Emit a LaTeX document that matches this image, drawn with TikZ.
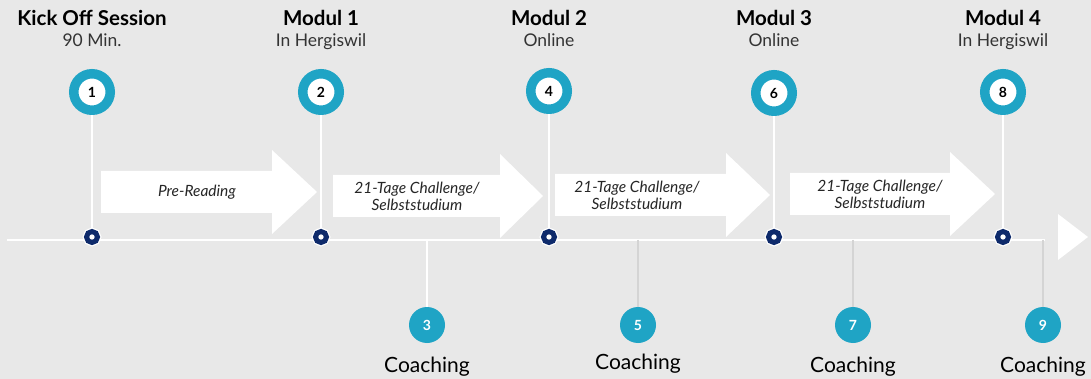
\documentclass[tikz,border=0pt]{standalone}
\usepackage{fontspec}
\setmainfont{Lato}
\usetikzlibrary{positioning}

\definecolor{bggray}{HTML}{E8E8E8}
\definecolor{kickteal}{HTML}{1FA4C5}
\definecolor{ringnavy}{HTML}{0E2A6B}
\definecolor{stemgray}{HTML}{D4D4D4}

\tikzset{
  timeline/.style={draw=white, line width=2pt},
  stem/.style={draw=white, line width=2pt},
  modulcircle/.style={circle, draw=kickteal, line width=9.5pt, fill=white,
    minimum size=36.5pt, inner sep=0pt, outer sep=4.75pt,
    font=\bfseries\fontsize{14}{14}\selectfont},
  ring/.style={circle, draw=ringnavy, line width=5pt, fill=white,
    minimum size=11pt, inner sep=0pt, outer sep=3.5pt,
    preaction={draw=white, line width=7.5pt}},
  coachcircle/.style={circle, fill=kickteal, minimum size=36pt, inner sep=0pt,
    text=white, font=\bfseries\fontsize{14}{14}\selectfont},
  titletext/.style={anchor=base, inner sep=0pt, font=\bfseries\fontsize{20.5}{20}\selectfont},
  subtext/.style={anchor=base, inner sep=0pt, text=black!80, font=\fontsize{17.5}{17}\selectfont},
  arrowtext/.style={align=center, inner sep=0pt, text=black!85,
    font=\itshape\fontsize{15.5}{17}\selectfont},
  coachtext/.style={anchor=base, inner sep=0pt, font=\fontsize{21}{21}\selectfont}
}

\begin{document}
\begin{tikzpicture}[x=1pt,y=-1pt]
\fill[bggray] (0,0) rectangle (1091,379);
\useasboundingbox (0,0) rectangle (1091,379);

% timeline
\coordinate (tlstart) at (7,240);
\coordinate (tlend) at (1045,240);
\draw[timeline] (tlstart) -- (tlend);
\fill[white] (1058,214) -- (1088,237) -- (1058,260) -- cycle;

% phases between the modules
\foreach \xa/\xb/\xc/\yc/\xt/\name/\txt in {
  101/272/317/192/197/pre/Pre-Reading,
  333/500/543/196/417/chA/{21-Tage Challenge/\\Selbststudium},
  555/726/770/195/637/chB/{21-Tage Challenge/\\Selbststudium},
  790/950/995/194/880/chC/{21-Tage Challenge/\\Selbststudium}}
{
  \fill[white] (\xa,\yc-21) -- (\xb,\yc-21) -- (\xb,\yc-42) -- (\xc,\yc)
    -- (\xb,\yc+42) -- (\xb,\yc+21) -- (\xa,\yc+21) -- cycle;
  \node[arrowtext] (\name) at (\xt,\yc) {\txt};
}

% modules
\foreach \i/\x/\y/\num/\title/\sub in {
  1/92/92/1/Kick Off Session/90 Min.,
  2/321/92/2/Modul 1/In Hergiswil,
  3/549/91/4/Modul 2/Online,
  4/774/93/6/Modul 3/Online,
  5/1003/92/8/Modul 4/In Hergiswil}
{
  \node[modulcircle] (t\i) at (\x,\y) {\num};
  \node[ring] (m\i) at (\x,237) {};
  \node[titletext] (title\i) at (\x,26) {\title};
  \node[subtext] (sub\i) at (\x,47) {\sub};
  \draw[stem] (t\i) -- (m\i);
}

% coachings
\foreach \i/\x/\num/\col/\yb in {
  1/427/3/white/372,
  2/638/5/stemgray/369,
  3/853/7/stemgray/372,
  4/1043/9/stemgray/372}
{
  \coordinate (j\i) at (\x,240);
  \node[coachcircle] (c\i) at (\x,325) {\num};
  \node[coachtext] (ct\i) at (\x,\yb) {Coaching};
  \draw[\col, line width=2pt] (j\i) -- (c\i);
}
\end{tikzpicture}
\end{document}
